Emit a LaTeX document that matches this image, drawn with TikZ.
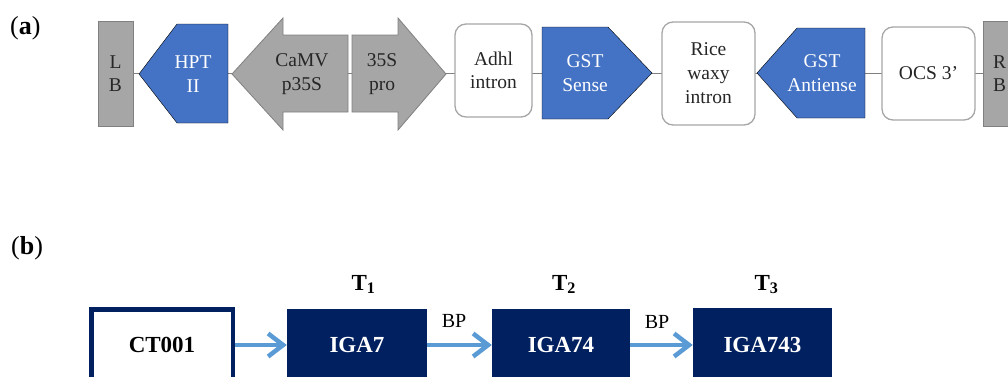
\documentclass[tikz,border=0pt]{standalone}
\usepackage{fontspec}
\setmainfont{Liberation Serif}
\usetikzlibrary{arrows.meta}
\definecolor{gfill}{HTML}{A6A6A6}
\definecolor{gline}{HTML}{808080}
\definecolor{bluef}{HTML}{4472C4}
\definecolor{navy}{HTML}{002060}
\definecolor{lblue}{HTML}{5B9BD5}
\definecolor{rbord}{HTML}{A6A6A6}
\definecolor{txt}{HTML}{262626}
\begin{document}
\begin{tikzpicture}[x=1pt,y=-1pt,
  lab/.style={font=\fontsize{19.5}{23.5}\selectfont, align=center, text=txt, inner sep=0pt},
  wlab/.style={lab, text=white},
  graybox/.style={draw=gline, fill=gfill, line width=0.8pt, inner sep=0pt},
  grayshape/.style={draw=gline, fill=gfill, line width=0.8pt},
  blueshape/.style={fill=bluef},
  intronbox/.style={draw=rbord, fill=white, line width=1.3pt, rounded corners=11pt, inner sep=0pt},
  backbone/.style={draw=gline, line width=1pt},
  panel/.style={font=\fontsize{26}{28}\selectfont, anchor=base west, inner sep=0pt},
  navybox/.style={fill=navy, text=white, font=\fontsize{23}{26}\selectfont\bfseries, inner sep=0pt, minimum height=72pt},
  ctbox/.style={draw=navy, line width=4.5pt, fill=white, font=\fontsize{23}{26}\selectfont\bfseries, inner sep=0pt, minimum height=71.5pt},
  gen/.style={font=\fontsize{23}{26}\selectfont\bfseries, anchor=base, inner sep=0pt},
  bp/.style={font=\fontsize{20}{22}\selectfont, inner sep=0pt},
  flow/.style={draw=lblue, line width=4.5pt, -{Straight Barb[length=15pt,width=23pt]}}
]
\useasboundingbox (0,0) rectangle (1008,376);
\clip (0,0) rectangle (1008,376);

% ---------- panel (a) ----------
\node[panel] (pa) at (10,34) {(\textbf{a})};

\node[graybox, minimum width=35pt, minimum height=105pt] (LB) at (115.5,73.5) {};
\node[graybox, minimum width=55pt, minimum height=105pt, anchor=west] (RB) at (983,73.5) {};
\draw[backbone] (LB.east) -- (RB.west);
\node[lab] (LBt) at (LB.center) {L\\B};
\node[lab, anchor=west] (RBt) at (993,73.5) {R\\B};

% HPT II (points left)
\draw[blueshape] (139,74) -- (177,24) -- (228,24) -- (228,123) -- (177,123) -- cycle;
\node[wlab] (hpt) at (193,74) {HPT\\II};

% CaMV p35S (big arrow left)
\draw[grayshape] (232,74) -- (283,18) -- (283,35) -- (348,35) -- (348,112) -- (283,112) -- (283,130) -- cycle;
\node[lab] (camv) at (302,74) {CaMV\\p35S};

% 35S pro (big arrow right)
\draw[grayshape] (352,35) -- (398,35) -- (398,18) -- (446,74) -- (398,130) -- (398,112) -- (352,112) -- cycle;
\node[lab] (pro) at (382,74) {35S\\pro};

% Adhl intron
\node[intronbox, minimum width=77pt, minimum height=93pt] (adh) at (493.5,70.5) {};
\node[lab] (adht) at (adh.center) {Adhl\\intron};

% GST Sense (points right)
\draw[blueshape] (542,27) -- (608,27) -- (652,73) -- (608,119) -- (542,119) -- cycle;
\node[wlab] (gsts) at (585,73) {GST\\Sense};

% Rice waxy intron
\node[intronbox, minimum width=93pt, minimum height=103pt] (rice) at (708.5,73.5) {};
\node[lab, font=\fontsize{19.5}{24}\selectfont] (ricet) at (rice.center) {Rice\\waxy\\intron};

% GST Antiense (points left)
\draw[blueshape] (757,73) -- (797,28) -- (865,28) -- (865,118) -- (797,118) -- cycle;
\node[wlab] (gsta) at (822,73) {GST\\Antiense};

% OCS 3'
\node[intronbox, minimum width=93pt, minimum height=93pt] (ocs) at (928.5,73.5) {};
\node[lab] (ocst) at (ocs.center) {OCS 3'};

% ---------- panel (b) ----------
\node[panel] (pb) at (11,254) {(\textbf{b})};

\node[ctbox, minimum width=141.5pt] (ct) at (162,345) {CT001};
\node[navybox, minimum width=140pt] (iga7) at (357,345) {IGA7};
\node[navybox, minimum width=138pt] (iga74) at (561,345) {IGA74};
\node[navybox, minimum width=139pt, minimum height=74pt] (iga743) at (762.5,345) {IGA743};

\draw[flow] (ct.east) -- (iga7.west);
\draw[flow] (iga7.east) -- (iga74.west);
\draw[flow] (iga74.east) -- (iga743.west);

\node[bp] (bp1) at (454,321) {BP};
\node[bp] (bp2) at (657,322) {BP};

\node[gen] (t1) at (363.5,290) {T\textsubscript{1}};
\node[gen] (t2) at (564,290) {T\textsubscript{2}};
\node[gen] (t3) at (766.5,290) {T\textsubscript{3}};
\end{tikzpicture}
\end{document}
